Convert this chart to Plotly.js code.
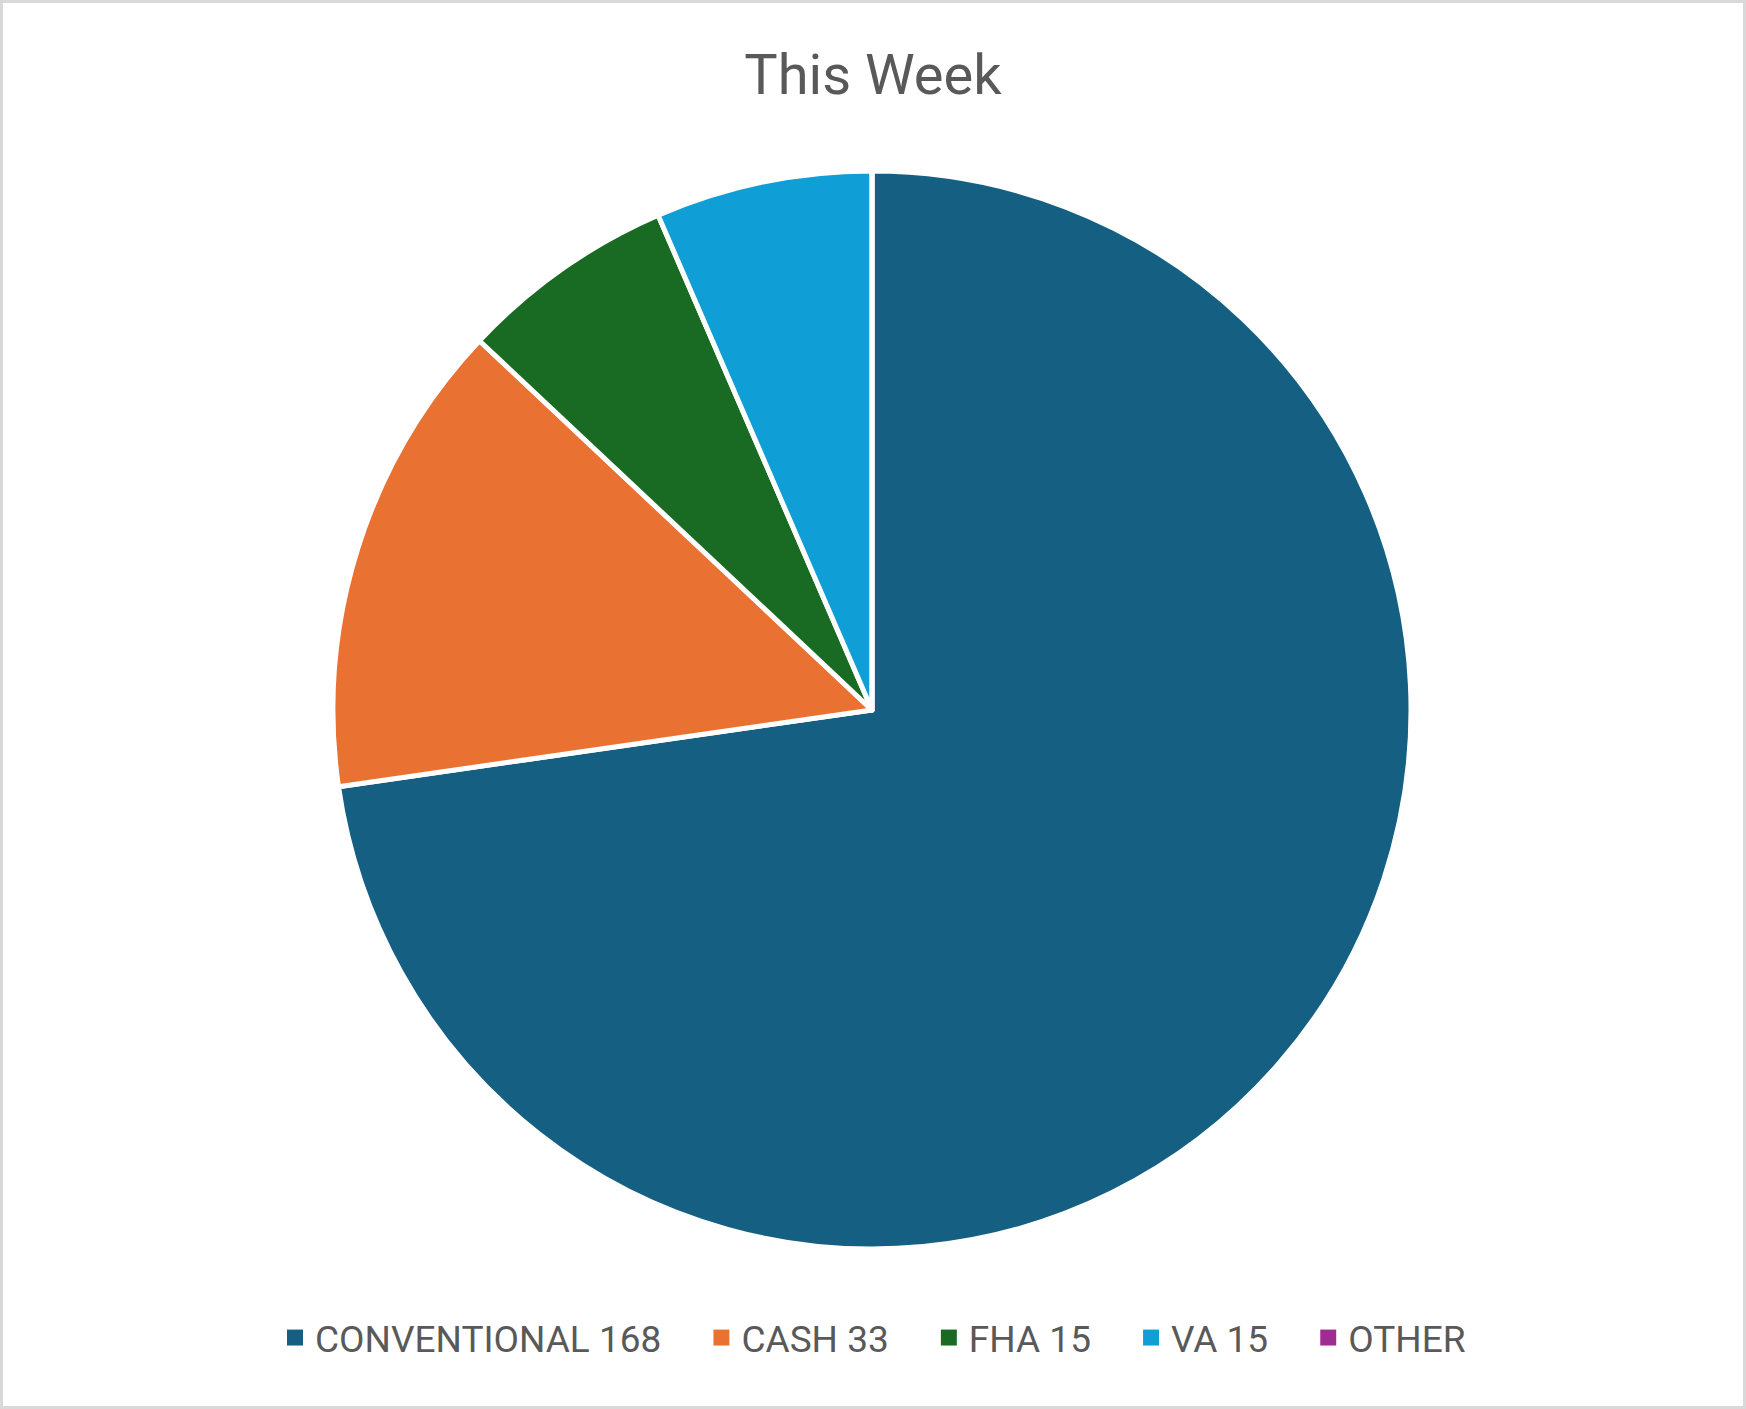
<!DOCTYPE html>
<html>
<head>
<meta charset="utf-8">
<script src="https://cdn.plot.ly/plotly-3.0.1.min.js"></script>
<style>
  html, body { margin: 0; padding: 0; background: #ffffff; }
  #chart { width: 1746px; height: 1409px; }
</style>
</head>
<body>
<div id="chart"></div>
<script>
const categories = ["CONVENTIONAL 168", "CASH 33", "FHA 15", "VA 15", "OTHER"];
const values = [168, 33, 15, 15, 0];
const colors = ["#156082", "#E97132", "#196B24", "#0F9ED5", "#A02B93"];
const chartTitle = "This Week";

const W = 1746, H = 1409;
const cx = 872, cy = 710, r = 539;

// extra trailing space between legend entries (visual gap only)
const legendPad = "\u00a0\u00a0\u00a0\u2009";
const legendLabels = categories.map((c, i) => i < categories.length - 1 ? c + legendPad : c);

const trace = {
  type: "pie",
  labels: legendLabels,
  values: values,
  sort: false,
  direction: "clockwise",
  rotation: 0,
  textinfo: "none",
  hoverinfo: "label+value+percent",
  marker: { colors: colors, line: { color: "#ffffff", width: 5 } },
  domain: {
    x: [(cx - r) / W, (cx + r) / W],
    y: [(H - cy - r) / H, (H - cy + r) / H]
  },
  showlegend: true
};

const layout = {
  width: W,
  height: H,
  margin: { l: 0, r: 0, t: 0, b: 0, pad: 0 },
  paper_bgcolor: "#ffffff",
  font: { family: "Roboto, 'Open Sans', sans-serif", color: "#595959" },
  title: {
    text: chartTitle,
    font: { family: "Roboto, sans-serif", size: 56, color: "#595959" },
    x: 0.5, xanchor: "center",
    y: 1 - 74 / H, yanchor: "middle",
    yref: "container"
  },
  legend: {
    orientation: "h",
    x: 0.5, xanchor: "center",
    y: 71 / H, yanchor: "middle",
    font: { family: "Roboto, sans-serif", size: 37, color: "#595959" },
    itemclick: false, itemdoubleclick: false,
    traceorder: "normal"
  },
  shapes: [{
    type: "rect", xref: "paper", yref: "paper",
    x0: 0, x1: 1, y0: 0, y1: 1,
    line: { color: "#D9D9D9", width: 6 },
    fillcolor: "rgba(0,0,0,0)"
  }]
};

Plotly.newPlot("chart", [trace], layout, { displayModeBar: false, staticPlot: true }).then(gd => {
  // legend swatches: solid filled squares without the white slice outline
  gd.querySelectorAll(".legendpoints path").forEach(p => {
    p.style.strokeWidth = "0";
    const t = p.getAttribute("transform") || "";
    p.setAttribute("transform", t + " scale(1.33)");
  });
  gd.querySelectorAll(".legend .scrollbox").forEach(g => g.removeAttribute("clip-path"));
  gd.querySelectorAll(".legend").forEach(g => g.removeAttribute("clip-path"));
});
</script>
</body>
</html>
